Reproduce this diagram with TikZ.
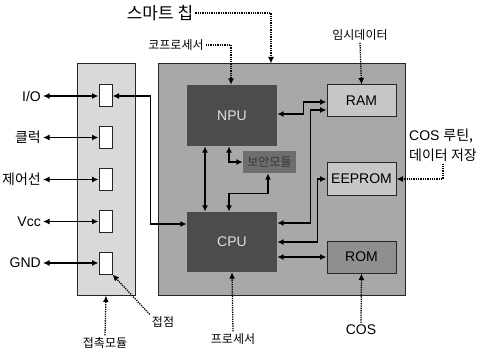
\documentclass[tikz,border=0pt]{standalone}
\usepackage{fontspec}
\setmainfont{Liberation Sans}
\newfontfamily\kr{Noto Sans CJK KR}
\usetikzlibrary{arrows.meta, positioning}
\tikzset{every node/.style={font=\fontsize{14}{16}\selectfont, inner sep=2pt},
  unit/.style={minimum width=#1, inner sep=0pt},
  link/.style={<->, line width=1.3pt},
  note/.style={->, densely dotted, line width=1.3pt},
  memo/.style={font=\kr\fontsize{12}{14}\selectfont}}

\begin{document}
\begin{tikzpicture}[x=1pt, y=-1pt, >={Latex[length=6.5pt,width=6pt]}]
  % Bounding box (taille originale)
  \path[use as bounding box] (0,0) rectangle (480,353);

  % Colors.
  \colorlet{edgecol}{black!85}
  \colorlet{modcol}{black!15}
  \colorlet{chipcol}{black!34}
  \colorlet{corecol}{black!70}
  \colorlet{seccol}{black!57}
  \colorlet{memcol}{black!22}
  \colorlet{romcol}{black!44}

  % Contact module and chip.
  \node[unit=58pt, minimum height=231pt, fill=modcol, draw=edgecol, line width=1pt] (module) at (106,179.5) {};
  \node[unit=247pt, minimum height=231pt, fill=chipcol, draw=edgecol, line width=1pt] (chip) at (281.5,179.5) {};

  % Contacts.
  \foreach \i/\y in {1/96, 2/137.5, 3/179.5, 4/221.5, 5/263}
    \node[unit=13pt, minimum height=22pt, fill=white, draw=edgecol, line width=1pt] (pad\i) at (105.5,\y) {};

  % Signals.
  \foreach \i/\t in {1/{I/O}, 2/{\kr 클럭}, 3/{\kr 제어선}, 4/{Vcc}, 5/{GND}} {
    \node[anchor=east] (sig\i) at (pad\i -| 43,0) {\t};
    \draw[link] (sig\i) -- (pad\i);
  }

  % Chip blocks.
  \node[unit=90pt, minimum height=61pt, fill=corecol, text=black!12] (npu) at (232,115.5) {NPU};
  \node[unit=90pt, minimum height=60pt, fill=corecol, text=black!12] (cpu) at (232,242) {CPU};
  \node[unit=53pt, minimum height=22pt, fill=seccol, text=black!78, memo] (sec) at (269.5,162) {보안모듈};
  \node[unit=69pt, minimum height=32pt, fill=memcol, draw=edgecol, line width=1pt] (ram) at (361.5,101) {RAM};
  \node[unit=69pt, minimum height=32pt, fill=memcol, draw=edgecol, line width=1pt] (eeprom) at (361.5,179) {EEPROM};
  \node[unit=69pt, minimum height=32pt, fill=romcol, draw=edgecol, line width=1pt] (rom) at (361.5,257) {ROM};

  % Buses.
  \draw[link] (pad1.east) -- ++(38,0) |- ([yshift=18pt]cpu.west);
  \draw[link] ([xshift=-27pt]npu.south) -- ([xshift=-27pt]cpu.north);
  \draw[link] ([xshift=-3pt]npu.south) |- (sec.west);
  \draw[link] ([xshift=-1.5pt]sec.south) -- ++(0,20) -| ([xshift=-3pt]cpu.north);
  \draw[link] ([yshift=1.5pt]npu.east) -- ++(26,0) |- ([yshift=-1pt]ram.west);
  \draw[link] ([yshift=19pt]cpu.east) -- ++(33,0) |- ([yshift=-9pt]ram.west);
  \draw[link] (cpu.east) -- ++(40,0) |- (eeprom.west);
  \draw[link] ([yshift=-15pt]cpu.east) -- (rom.west);

  % Notes.
  \node[font=\kr\fontsize{17}{19}\selectfont] (smart) at (160,13) {스마트 칩};
  \node[memo] (copro) at (176,45) {코프로세서};
  \node[memo] (temp) at (360,35) {임시데이터};
  \node[align=left, font=\fontsize{14}{20}\selectfont] (cosr) at (443,145) {COS {\kr 루틴,}\\{\kr 데이터 저장}};
  \node (cos) at (361,330) {COS};
  \node[memo] (proc) at (233,339) {프로세서};
  \node[memo] (point) at (163,322) {접점};
  \node[memo] (cmod) at (105,343) {접촉모듈};

  \draw[note] (smart.east) -| ([xshift=-10.5pt]chip.north);
  \draw[note] (copro.east) -| ([xshift=-1pt]npu.north);
  \draw[note] (temp.south) -- (ram.north);
  \draw[note] (cosr.south) |- (eeprom.east);
  \draw[note] (cos.north) -- (rom.south);
  \draw[note] (proc.north) -- (cpu.south);
  \draw[note] (point.north west) -- (pad5.south east);
  \draw[note] (cmod.north) -- (module.south);
\end{tikzpicture}
\end{document}
